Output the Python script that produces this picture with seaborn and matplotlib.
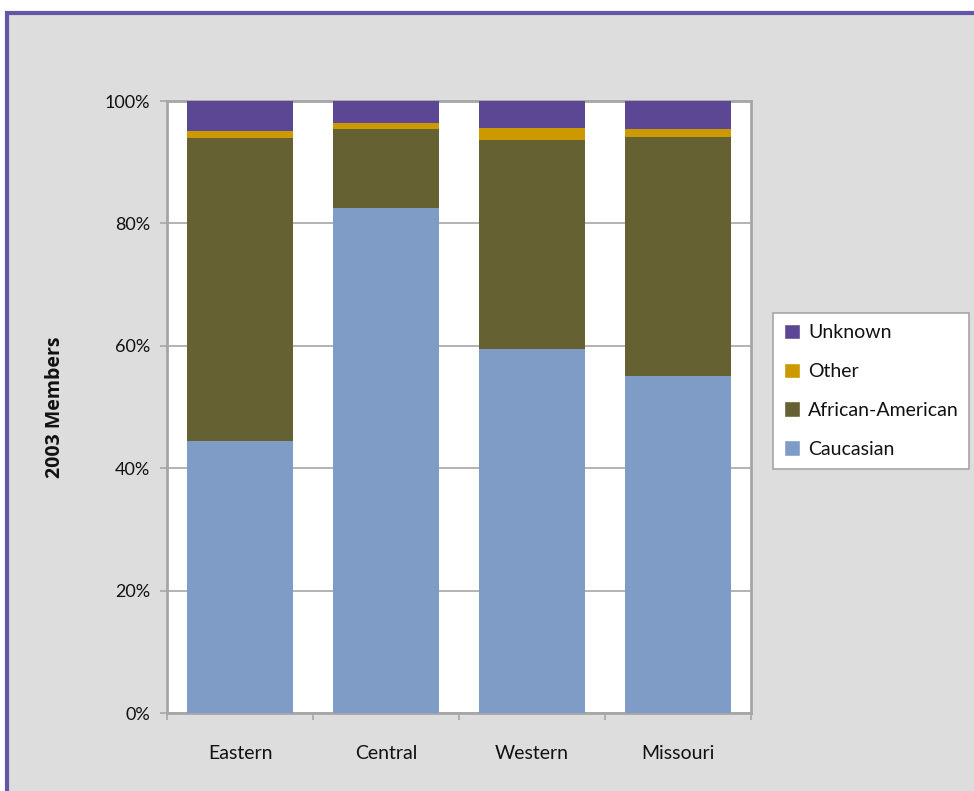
import matplotlib
matplotlib.use("Agg")
import matplotlib.pyplot as plt
import matplotlib.patches as mpatches
import seaborn as sns
import pandas as pd
import numpy as np

regions = ["Eastern", "Central", "Western", "Missouri"]
caucasian = [44.4, 82.5, 59.5, 55.1]
african_american = [49.6, 12.9, 34.1, 39.0]
other = [1.1, 1.0, 2.0, 1.3]
unknown = [4.9, 3.6, 4.4, 4.6]
series_names = ["Caucasian", "African-American", "Other", "Unknown"]
colors = ["#7F9CC6", "#666133", "#CC9900", "#5B4793"]
yticks = [0, 20, 40, 60, 80, 100]
ytick_labels = ["0%", "20%", "40%", "60%", "80%", "100%"]

sns.set_theme(style="white")
plt.rcParams['font.family'] = ['Lato', 'DejaVu Sans']

W, H = 974, 791
fig = plt.figure(figsize=(W / 100, H / 100), dpi=100)
fig.patch.set_facecolor("white")

# outer chart frame (gray area with purple border)
frame = mpatches.Rectangle((6.5 / W, -0.05), 1.1, 1 - 13.5 / H + 0.05,
                           transform=fig.transFigure, facecolor="#DDDDDD",
                           edgecolor="#6257A6", linewidth=3, zorder=-10)
fig.patches.append(frame)

ax = fig.add_axes([167 / W, 1 - 713 / H, (751 - 167) / W, (713 - 101) / H])
ax.set_zorder(5)
ax.set_facecolor("white")

df = pd.DataFrame({"Region": regions, "Caucasian": caucasian,
                   "African-American": african_american,
                   "Other": other, "Unknown": unknown})
cum = df[series_names].cumsum(axis=1)
cum["Region"] = df["Region"]

handles = []
for name, col in reversed(list(zip(series_names, colors))):
    sns.barplot(data=cum, x="Region", y=name, color=col, width=0.72,
                saturation=1, ax=ax, zorder=3, linewidth=0)
    handles.append(mpatches.Patch(facecolor=col, label=name))

ax.set_ylim(0, 100)
ax.set_xlim(-0.5, 3.5)
ax.set_yticks(yticks)
ax.set_yticklabels(ytick_labels, fontsize=13, color="#111111")
ax.yaxis.grid(True, color="#A6A6A6", linewidth=1.2, zorder=0)
ax.set_axisbelow(True)

# x ticks at category boundaries, labels at centers
ax.set_xticks(np.arange(-0.5, 4.0, 1.0))
ax.set_xticklabels([])
ax.set_xticks(np.arange(0, 4), minor=True)
ax.set_xticklabels(regions, minor=True, fontsize=14, color="#111111")
ax.tick_params(axis="x", which="minor", length=0, pad=23)
ax.tick_params(axis="x", which="major", length=5, width=1.2, color="#A6A6A6", direction="out", bottom=True)
ax.tick_params(axis="y", length=5, width=1.2, color="#A6A6A6", direction="out", left=True, pad=7)

ax.set_xlabel("")
ax.set_ylabel("2003 Members", fontsize=14, fontweight="bold", labelpad=29, color="#111111",
              family=["Open Sans", "DejaVu Sans"])

for s in ax.spines.values():
    s.set_visible(True)
    s.set_color("#A6A6A6")
    s.set_linewidth(2)

leg = fig.legend(handles=handles, loc="upper left",
                 bbox_to_anchor=(773 / W, 1 - 313 / H), bbox_transform=fig.transFigure,
                 fontsize=14, frameon=True, fancybox=False, edgecolor="#A6A6A6",
                 facecolor="white", framealpha=1,
                 handlelength=0.85, handleheight=0.85, handletextpad=0.4,
                 labelspacing=1.1, borderpad=0.55, borderaxespad=0)
leg.set_zorder(6)
leg.get_frame().set_linewidth(1.2)
for t in leg.get_texts():
    t.set_color("#111111")

fig.savefig("out.png", dpi=100)
